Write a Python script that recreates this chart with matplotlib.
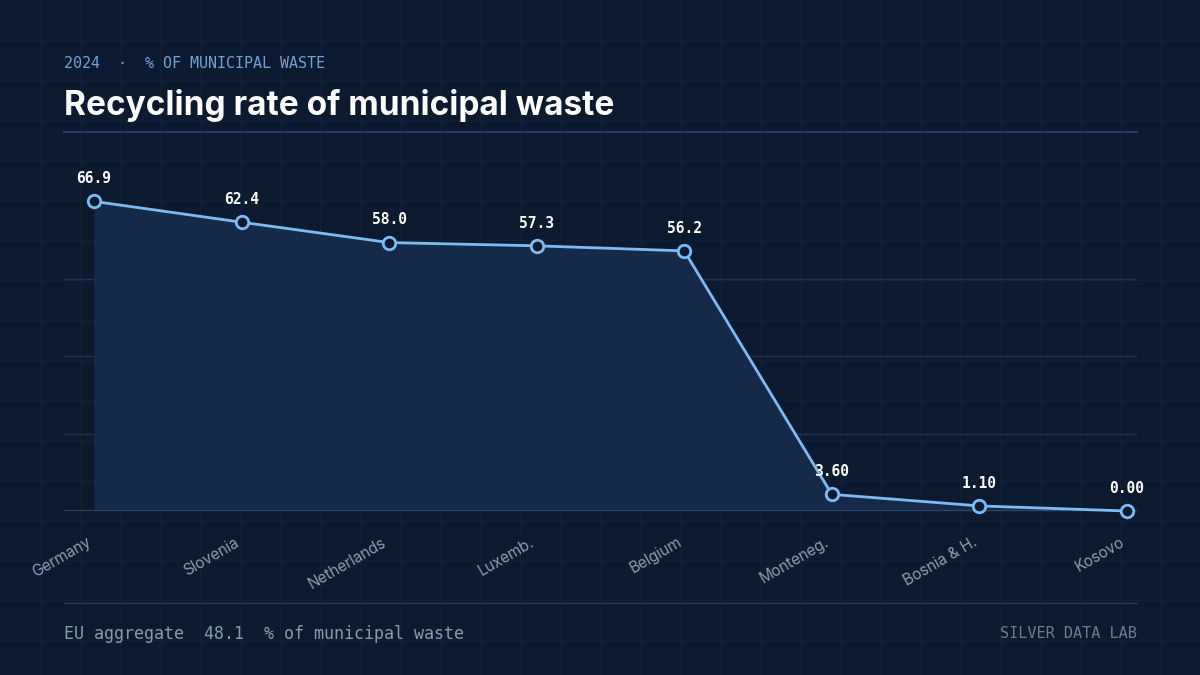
import numpy as np
import matplotlib.pyplot as plt

# Data
countries = ['Germany', 'Slovenia', 'Netherlands', 'Luxemb.', 'Belgium',
             'Monteneg.', 'Bosnia & H.', 'Kosovo']
rates = [66.9, 62.4, 58.0, 57.3, 56.2, 3.60, 1.10, 0.00]
value_labels = ['66.9', '62.4', '58.0', '57.3', '56.2', '3.60', '1.10', '0.00']
eu_aggregate = 48.1

# Colours
bg = '#0c1a2f'
grid_bg = '#101f36'
fill_c = '#152a49'
line_c = '#7dbbf5'
rule_c = '#26395a'
tick_c = '#8d9cb5'

fig = plt.figure(figsize=(12, 6.75), dpi=100, facecolor=bg)

# faint background grid over the whole figure
bg_ax = fig.add_axes([0, 0, 1, 1], zorder=0)
bg_ax.set_xlim(0, 1200)
bg_ax.set_ylim(675, 0)
bg_ax.set_facecolor(bg)
for gx in range(40, 1200, 40):
    bg_ax.axvline(gx, color=grid_bg, lw=0.8)
for gy in range(40, 675, 40):
    bg_ax.axhline(gy, color=grid_bg, lw=0.8)
# rules
bg_ax.plot([64, 1137], [132, 132], color=rule_c, lw=1.5)
bg_ax.plot([64, 1137], [603, 603], color=rule_c, lw=1.0)
bg_ax.axis('off')

ax = fig.add_axes([64 / 1200, 164 / 675, 1073 / 1200, 361 / 675], zorder=1)
ax.patch.set_alpha(0)
x = np.arange(len(countries))
ymax = max(rates)

# horizontal guides at quarters of the max
for frac in [0.25, 0.5, 0.75]:
    ax.axhline(ymax * frac, color='#1e3150', lw=1.0, zorder=1)

ax.fill_between(x, rates, 0, color=fill_c, lw=0, zorder=2)
ax.axhline(0, color='#2c4468', lw=1.5, zorder=3)
ax.plot(x, rates, color=line_c, lw=2.0, marker='o', markersize=9,
        markerfacecolor=bg, markeredgecolor=line_c, markeredgewidth=2.0,
        zorder=4, clip_on=False)

for xi, yi, lab in zip(x, rates, value_labels):
    ax.annotate(lab, (xi, yi), xytext=(0, 11), textcoords='offset points',
                ha='center', va='bottom', color='white', fontsize=10.5,
                fontweight='bold', family='DejaVu Sans Mono', zorder=5)

ax.set_xlim(-0.203, 7.068)
ax.set_ylim(0, 78)
ax.set_xticks(x)
ax.set_xticklabels(countries, rotation=30, ha='right',
                   color=tick_c, fontsize=11, family='Inter')
ax.tick_params(axis='x', length=0, pad=17)
ax.set_yticks([])
for s in ax.spines.values():
    s.set_visible(False)

# header and footer text
fig.text(64 / 1200, 1 - 63 / 675, '2024  \u00b7  % OF MUNICIPAL WASTE',
         color='#6fa3d8', fontsize=10.8, family='DejaVu Sans Mono', va='center')
fig.text(64 / 1200, 1 - 115 / 675, 'Recycling rate of municipal waste',
         color='white', fontsize=24, fontweight='bold', family='Inter',
         va='baseline')
fig.text(64 / 1200, 1 - 634 / 675,
         f'EU aggregate  {eu_aggregate}  % of municipal waste',
         color='#8a9ab2', fontsize=12, family='DejaVu Sans Mono', va='center')
fig.text(1137 / 1200, 1 - 634 / 675, 'SILVER DATA LAB', color='#6c7b93',
         fontsize=11, family='DejaVu Sans Mono', va='center', ha='right')

fig.savefig('out.png', dpi=100, facecolor=bg)
